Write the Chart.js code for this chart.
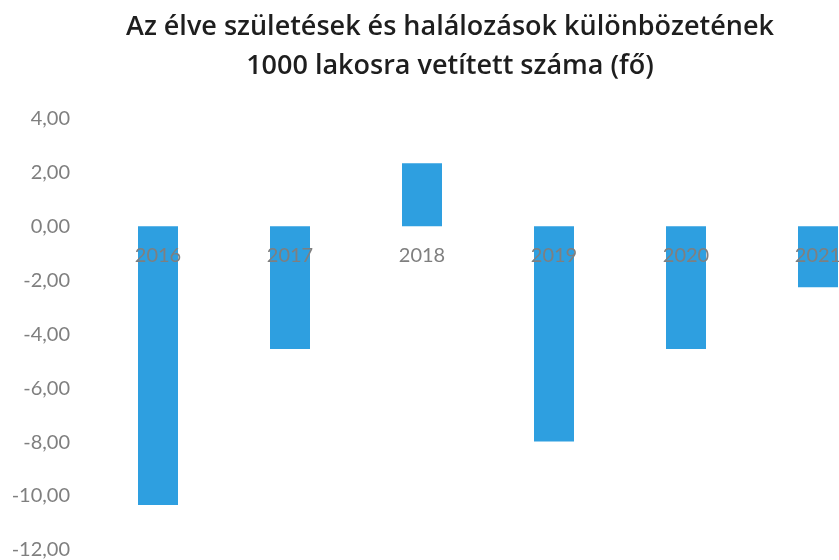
<!DOCTYPE html>
<html>
<head>
<meta charset="utf-8">
<script src="https://cdn.jsdelivr.net/npm/chart.js@4"></script>
<style>
    html, body { margin: 0; padding: 0; background: #ffffff; overflow: hidden; }
    #wrap { width: 900px; height: 560px; }
</style>
</head>
<body>
<div id="wrap"><canvas id="diffChart" width="900" height="560"></canvas></div>
<script>
const years = ["2016", "2017", "2018", "2019", "2020", "2021"]
const diffPer1000 = [-10.33, -4.55, 2.33, -7.98, -4.55, -2.26]
const yTicks = [-12, -10, -8, -6, -4, -2, 0, 2, 4]
const titleLines = ["Az élve születések és halálozások különbözetének", "1000 lakosra vetített száma (fő)"]

const chartCtx = document.getElementById("diffChart")

function formatHu(value) {
    return value.toFixed(2).replace(".", ",")
}

// keep the title centred on the full figure, not on the padded box
const centerTitle = {
    id: "centerTitle",
    afterLayout(chart) {
        const block = chart.titleBlock
        if (!block) return
        block.left = 16
        block.right = chart.chartArea.right
        block.width = block.right - block.left
    }
}

new Chart(chartCtx, {
    type: "bar",
    data: {
        labels: years,
        datasets: [{
            data: diffPer1000,
            backgroundColor: "#2e9fe0",
            barPercentage: 0.303,
            categoryPercentage: 1
        }]
    },
    options: {
        responsive: false,
        animation: false,
        layout: {
            padding: { top: 0, right: 16, bottom: 10, left: 0 }
        },
        plugins: {
            legend: { display: false },
            tooltip: { enabled: false },
            title: {
                display: true,
                text: titleLines,
                color: "#1e1e1e",
                font: { family: "Open Sans", size: 27, weight: "600", lineHeight: 1.45 },
                padding: { top: 8, bottom: 32 }
            }
        },
        scales: {
            x: {
                position: { y: 0 },
                grid: { display: false },
                border: { display: false },
                afterFit: (scale) => { scale.height = 0 },
                ticks: {
                    z: 1,
                    color: "#7f7f7f",
                    padding: 9,
                    maxRotation: 0,
                    font: { family: "Lato", size: 20 }
                }
            },
            y: {
                min: yTicks[0],
                max: yTicks[yTicks.length - 1],
                grid: { display: false },
                border: { display: false },
                afterFit: (scale) => {
                    scale.width = 92
                    scale.paddingTop = 0
                    scale.paddingBottom = 0
                },
                afterBuildTicks: (scale) => { scale.ticks = yTicks.map((v) => ({ value: v })) },
                ticks: {
                    color: "#7f7f7f",
                    padding: 14,
                    font: { family: "Lato", size: 20 },
                    callback: (value) => formatHu(value)
                }
            }
        }
    },
    plugins: [centerTitle]
})
</script>
</body>
</html>
